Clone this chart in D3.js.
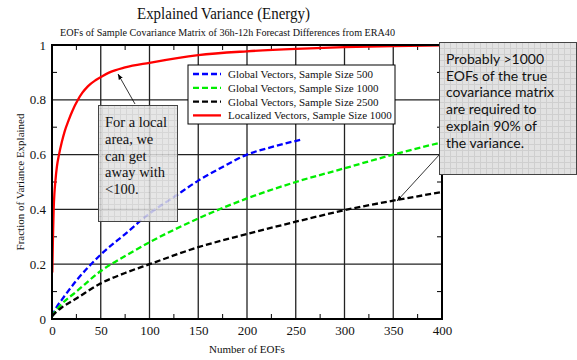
<!DOCTYPE html>
<html>
<head>
<meta charset="utf-8">
<script src="https://cdn.jsdelivr.net/npm/d3@7"></script>
<style>
  body { margin: 0; background: #fff; }
</style>
</head>
<body>
<svg id="chart" width="577" height="360"></svg>
<script>
// series data
const eofs500 = [0, 5, 10, 25, 50, 75, 100, 125, 150, 175, 200, 225, 256];
const global500 = [0.01, 0.045, 0.07, 0.14, 0.235, 0.31, 0.385, 0.445, 0.505, 0.555, 0.60, 0.627, 0.655];

const eofsGrid = [0, 5, 10, 25, 50, 75, 100, 150, 200, 250, 300, 350, 400];
const global1000 = [0.01, 0.035, 0.055, 0.10, 0.175, 0.23, 0.28, 0.367, 0.44, 0.50, 0.55, 0.60, 0.645];
const global2500 = [0.01, 0.028, 0.042, 0.075, 0.13, 0.168, 0.20, 0.262, 0.31, 0.355, 0.397, 0.432, 0.463];

const eofsLocal = [0.3, 1, 1.7, 2.5, 3.4, 5, 7.2, 10, 13, 17, 21, 26.6, 31, 37, 45, 52, 59, 75, 100, 150, 200, 250, 300, 350, 400];
const local1000 = [0.17, 0.3, 0.4, 0.46, 0.5, 0.555, 0.6, 0.645, 0.685, 0.725, 0.76, 0.8, 0.825, 0.85, 0.872, 0.887, 0.9, 0.918, 0.935, 0.963, 0.977, 0.986, 0.992, 0.996, 0.999];

const xTicks = [0, 50, 100, 150, 200, 250, 300, 350, 400];
const yTicks = [0, 0.2, 0.4, 0.6, 0.8, 1];
const legendLabels = [
  "Global Vectors, Sample Size 500",
  "Global Vectors, Sample Size 1000",
  "Global Vectors, Sample Size 2500",
  "Localized Vectors, Sample Size 1000"
];
const leftNote = ["For a local", "area, we", "can get", "away with", "<100."];
const rightNote = ["Probably >1000", "EOFs of the true", "covariance matrix", "are required to", "explain 90% of", "the variance."];

const serif = "'Liberation Serif', 'Times New Roman', Times, serif";
const svg = d3.select("#chart").attr("font-family", serif);
const margin = { left: 52, right: 135, top: 45, bottom: 41 };
const width = 577 - margin.left - margin.right;
const height = 360 - margin.top - margin.bottom;

const x = d3.scaleLinear().domain([0, 400]).range([margin.left, margin.left + width]);
const y = d3.scaleLinear().domain([0, 1]).range([margin.top + height, margin.top]);

// titles (the original is squeezed sideways, so fit them to its widths)
svg.append("text").attr("x", 223.5).attr("y", 19).attr("text-anchor", "middle")
  .attr("font-size", 17).attr("fill", "#111")
  .attr("textLength", 173).attr("lengthAdjust", "spacingAndGlyphs")
  .text("Explained Variance (Energy)");
svg.append("text").attr("x", 227.5).attr("y", 36).attr("text-anchor", "middle")
  .attr("font-size", 11).attr("fill", "#111")
  .attr("textLength", 335).attr("lengthAdjust", "spacingAndGlyphs")
  .text("EOFs of Sample Covariance Matrix of 36h-12h Forecast Differences from ERA40");

// grid
const grid = svg.append("g");
grid.selectAll(".gx").data(xTicks.slice(1, -1)).enter().append("line")
  .attr("x1", d => x(d)).attr("x2", d => x(d))
  .attr("y1", y(0)).attr("y2", y(1))
  .attr("stroke", "#222").attr("stroke-width", 1.3);
grid.selectAll(".gy").data(yTicks.slice(1, -1)).enter().append("line")
  .attr("x1", x(0)).attr("x2", x(400))
  .attr("y1", d => y(d)).attr("y2", d => y(d))
  .attr("stroke", "#222").attr("stroke-width", 1.3);

// minor ticks on all four sides
const minorX = d3.range(25, 400, 50);
const minorY = d3.range(0.1, 1, 0.2);
const ticks = svg.append("g").attr("stroke", "#000").attr("stroke-width", 1);
ticks.selectAll(".mb").data(minorX).enter().append("line")
  .attr("x1", d => x(d)).attr("x2", d => x(d)).attr("y1", y(0)).attr("y2", y(0) - 5);
ticks.selectAll(".mt").data(minorX).enter().append("line")
  .attr("x1", d => x(d)).attr("x2", d => x(d)).attr("y1", y(1)).attr("y2", y(1) + 5);
ticks.selectAll(".ml").data(minorY).enter().append("line")
  .attr("x1", x(0)).attr("x2", x(0) + 5).attr("y1", d => y(d)).attr("y2", d => y(d));
ticks.selectAll(".mr").data(minorY).enter().append("line")
  .attr("x1", x(400)).attr("x2", x(400) - 5).attr("y1", d => y(d)).attr("y2", d => y(d));

// axes labels
const xAxis = svg.append("g").attr("transform", `translate(0,${y(0)})`)
  .call(d3.axisBottom(x).tickValues(xTicks).tickSize(0).tickPadding(7).tickFormat(d3.format("d")));
const yAxis = svg.append("g").attr("transform", `translate(${x(0)},0)`)
  .call(d3.axisLeft(y).tickValues(yTicks).tickSize(0).tickPadding(6).tickFormat(d => d === 0 || d === 1 ? d : d3.format(".1f")(d)));
[xAxis, yAxis].forEach(a => {
  a.attr("font-family", serif).attr("font-size", 13);
  a.select(".domain").remove();
  a.selectAll("text").attr("fill", "#111");
});

svg.append("text").attr("x", 247).attr("y", 353).attr("text-anchor", "middle")
  .attr("font-size", 11).attr("fill", "#111").text("Number of EOFs");
svg.append("text").attr("transform", `translate(24,${y(0.5)}) rotate(-90)`)
  .attr("text-anchor", "middle").attr("font-size", 11).attr("fill", "#111")
  .text("Fraction of Variance Explained");

// curves
const series = [
  { xs: eofs500, ys: global500, color: "#0000ff", dash: "6,3" },
  { xs: eofsGrid, ys: global1000, color: "#00ee00", dash: "6,3" },
  { xs: eofsGrid, ys: global2500, color: "#000000", dash: "6,3" },
  { xs: eofsLocal, ys: local1000, color: "#ff0000", dash: null }
];
const line = d3.line().x(d => x(d[0])).y(d => y(d[1])).curve(d3.curveMonotoneX);
series.forEach(s => {
  svg.append("path").datum(d3.zip(s.xs, s.ys))
    .attr("d", line).attr("fill", "none")
    .attr("stroke", s.color).attr("stroke-width", 2.3)
    .attr("stroke-dasharray", s.dash);
});

// frame
svg.append("rect").attr("x", x(0)).attr("y", y(1)).attr("width", width).attr("height", height)
  .attr("fill", "none").attr("stroke", "#000").attr("stroke-width", 2);

// legend
const lg = svg.append("g").attr("transform", "translate(188,65)");
lg.append("rect").attr("width", 207).attr("height", 59).attr("fill", "#fff")
  .attr("stroke", "#000").attr("stroke-width", 1);
legendLabels.forEach((lab, i) => {
  const yy = 9 + i * 13.8;
  lg.append("line").attr("x1", 5).attr("x2", 33).attr("y1", yy).attr("y2", yy)
    .attr("stroke", series[i].color).attr("stroke-width", 2.3)
    .attr("stroke-dasharray", series[i].dash);
  lg.append("text").attr("x", 40).attr("y", yy + 4).attr("font-size", 11).attr("fill", "#111").text(lab);
});

// annotation boxes
const defs = svg.append("defs");
const pat = defs.append("pattern").attr("id", "note").attr("patternUnits", "userSpaceOnUse")
  .attr("width", 6).attr("height", 6);
pat.append("rect").attr("width", 6).attr("height", 6).attr("fill", "#e2e2e2");
pat.append("path").attr("d", "M0,0.5H6M0.5,0V6").attr("stroke", "#cfcfcf").attr("stroke-width", 1);
const mk = defs.append("marker").attr("id", "arrow").attr("viewBox", "0 0 10 10")
  .attr("refX", 10).attr("refY", 5).attr("markerWidth", 7).attr("markerHeight", 7).attr("orient", "auto");
mk.append("path").attr("d", "M0,1L10,5L0,9z").attr("fill", "#000");

svg.append("line").attr("x1", 135).attr("y1", 104).attr("x2", 118).attr("y2", 74)
  .attr("stroke", "#000").attr("stroke-width", 0.8).attr("marker-end", "url(#arrow)");
svg.append("rect").attr("x", 98.5).attr("y", 105.5).attr("width", 79).attr("height", 116)
  .attr("fill", "url(#note)").attr("fill-opacity", 0.85)
  .attr("stroke", "#444").attr("stroke-width", 1);
svg.append("text").attr("font-size", 14.5).attr("fill", "#111")
  .selectAll("tspan").data(leftNote).enter().append("tspan")
  .attr("x", 105).attr("y", (d, i) => 127 + i * 16.8).text(d => d);

svg.append("line").attr("x1", 440).attr("y1", 154).attr("x2", 397).attr("y2", 201)
  .attr("stroke", "#000").attr("stroke-width", 0.8).attr("marker-end", "url(#arrow)");
svg.append("rect").attr("x", 439.5).attr("y", 42.5).attr("width", 137).attr("height", 132)
  .attr("fill", "url(#note)").attr("stroke", "#444").attr("stroke-width", 1);
svg.append("text").attr("font-size", 14).attr("fill", "#111")
  .attr("font-family", "Lato, 'Open Sans', sans-serif")
  .selectAll("tspan").data(rightNote).enter().append("tspan")
  .attr("x", 446).attr("y", (d, i) => 64 + i * 16.7).text(d => d);
</script>
</body>
</html>
